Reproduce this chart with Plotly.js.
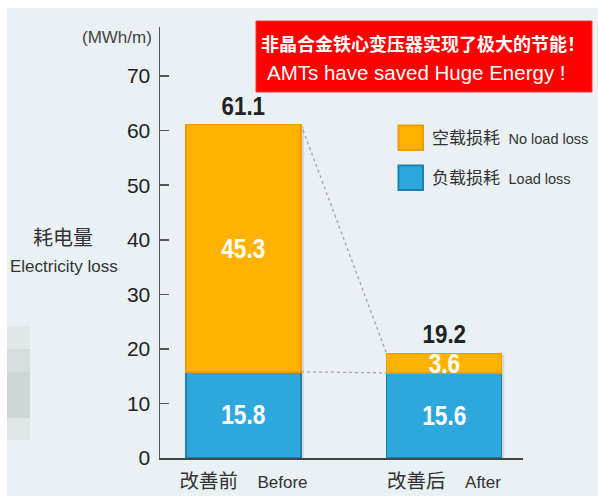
<!DOCTYPE html>
<html>
<head>
<meta charset="utf-8">
<script src="https://cdn.plot.ly/plotly-3.0.1.min.js"></script>
<style>
  html, body { margin: 0; padding: 0; background: #ffffff; width: 598px; height: 496px; overflow: hidden; }
  #chart { position: absolute; left: 7px; top: 8px; width: 591px; height: 488px; }
  .narrow text { transform-box: fill-box; transform-origin: center; }
</style>
</head>
<body>
<div id="chart"></div>
<script>
// ---- data ----
const categories = ['改善前', '改善后'];
const categoriesEn = ['Before', 'After'];
const loadLoss = [15.8, 15.6];      // 负载损耗 Load loss
const noLoadLoss = [45.3, 3.6];     // 空载损耗 No load loss
const totals = [61.1, 19.2];
const yTicks = [0, 10, 20, 30, 40, 50, 60, 70];
const seriesNoLoad = ['空载损耗', 'No load loss'];
const seriesLoad = ['负载损耗', 'Load loss'];
const unitLabel = '(MWh/m)';
const yTitleCn = '耗电量';
const yTitleEn = 'Electricity loss';
const bannerCn = '非晶合金铁心变压器实现了极大的节能！';
const bannerEn = 'AMTs have saved Huge Energy !';

// ---- styling ----
const BG = '#e9f1f4';
const ORANGE = '#ffb300', ORANGE_LINE = '#f29a06';
const BLUE = '#2ea8dc', BLUE_LINE = '#1b80b6';
const LATIN = 'Liberation Sans, Arial, Noto Sans CJK SC, sans-serif';
const CJK = 'Liberation Sans, Noto Sans CJK SC, sans-serif';
const BAR_W = 0.574;

// plot area geometry in page pixels (div offset 7,8)
const M = {l: 153, r: 75, t: 19, b: 38};
const PW = 591 - M.l - M.r, PH = 488 - M.t - M.b;
const px = p => (p - 7 - M.l) / PW;
const py = p => (8 + M.t + PH - p) / PH;

const traces = [
  {
    type: 'bar', x: categories, y: loadLoss, name: seriesLoad.join(' '),
    width: BAR_W, marker: {color: BLUE, line: {color: BLUE_LINE, width: 1.5}},
    hoverinfo: 'skip'
  },
  {
    type: 'bar', x: categories, y: noLoadLoss, name: seriesNoLoad.join(' '),
    width: BAR_W, marker: {color: ORANGE, line: {color: ORANGE_LINE, width: 1.5}},
    hoverinfo: 'skip'
  }
];

const annotations = [];
const shapes = [];
const narrowIdx = {};   // annotation index -> horizontal squeeze factor

// value labels inside segments and totals above bars
categories.forEach((c, i) => {
  narrowIdx[annotations.length] = 0.81;
  annotations.push({
    xref: 'x', yref: 'y', x: i, y: loadLoss[i] / 2, text: loadLoss[i].toFixed(1),
    showarrow: false, font: {family: LATIN, size: 28, color: '#ffffff', weight: 'bold'}
  });
  narrowIdx[annotations.length] = 0.81;
  annotations.push({
    xref: 'x', yref: 'y', x: i, y: loadLoss[i] + noLoadLoss[i] / 2, text: noLoadLoss[i].toFixed(1),
    showarrow: false, font: {family: LATIN, size: 28, color: '#ffffff', weight: 'bold'}
  });
  narrowIdx[annotations.length] = 0.86;
  annotations.push({
    xref: 'x', yref: 'y', x: i, y: totals[i], yanchor: 'bottom', yshift: 2, text: totals[i].toFixed(1),
    showarrow: false, font: {family: LATIN, size: 26, color: '#222222', weight: 'bold'}
  });
  // soft shadow to the right of each bar
  shapes.push({
    type: 'rect', xref: 'x', yref: 'y', layer: 'below',
    x0: i + BAR_W / 2, x1: i + BAR_W / 2 + 0.014, y0: 0, y1: totals[i] - 0.3,
    fillcolor: 'rgba(120,130,135,0.22)', line: {width: 0}
  });
});

// dashed connector lines between bars
shapes.push({
  type: 'line', xref: 'x', yref: 'y', layer: 'below',
  x0: 0 + BAR_W / 2, y0: totals[0], x1: 1 - BAR_W / 2, y1: totals[1],
  line: {color: '#a6a6a6', width: 1.3, dash: '3px,3px'}
});
shapes.push({
  type: 'line', xref: 'x', yref: 'y', layer: 'below',
  x0: 0 + BAR_W / 2, y0: loadLoss[0], x1: 1 - BAR_W / 2, y1: loadLoss[1],
  line: {color: '#a6a6a6', width: 1.3, dash: '3px,3px'}
});

// decorative grey strip at left edge
const strips = [[326, 349, '#e2e8e9'], [349, 372, '#d5dddf'], [372, 418, '#ced7d8'], [418, 440, '#e0e6e7']];
strips.forEach(s => shapes.push({
  type: 'rect', xref: 'paper', yref: 'paper', layer: 'below',
  x0: px(7), x1: px(30), y0: py(s[1]), y1: py(s[0]), fillcolor: s[2], line: {width: 0}
}));

// red banner
shapes.push({
  type: 'rect', xref: 'paper', yref: 'paper',
  x0: px(256), x1: px(592), y0: py(92), y1: py(21),
  fillcolor: '#ff0000', line: {color: '#ff3b3b', width: 1}
});
annotations.push({
  xref: 'paper', yref: 'paper', x: px(423), y: py(42.5), xanchor: 'center', yanchor: 'middle',
  text: bannerCn, showarrow: false,
  font: {family: 'Noto Sans CJK SC, sans-serif', size: 18, color: '#ffffff', weight: 'bold'}
});
annotations.push({
  xref: 'paper', yref: 'paper', x: px(416.5), y: py(72.5), xanchor: 'center', yanchor: 'middle',
  text: bannerEn, showarrow: false,
  font: {family: LATIN, size: 20.5, color: '#ffffff'}
});

// custom legend
const legendItems = [
  {names: seriesNoLoad, fill: ORANGE, line: ORANGE_LINE, top: 125},
  {names: seriesLoad, fill: BLUE, line: BLUE_LINE, top: 165}
];
legendItems.forEach(it => {
  shapes.push({
    type: 'rect', xref: 'paper', yref: 'paper',
    x0: px(398.5), x1: px(423), y0: py(it.top + 25), y1: py(it.top + 0.5),
    fillcolor: it.fill, line: {color: it.line, width: 2}
  });
  annotations.push({
    xref: 'paper', yref: 'paper', x: px(430), y: py(it.top + 13), xanchor: 'left', yanchor: 'middle',
    showarrow: false,
    text: it.names[0] + '\u2002<span style="font-size:14.5px">' + it.names[1] + '</span>',
    font: {family: CJK, size: 17, color: '#333333'}
  });
});

// unit label and y-axis title
annotations.push({
  xref: 'paper', yref: 'paper', x: px(154), y: py(37.5), xanchor: 'right', yanchor: 'middle',
  text: unitLabel, showarrow: false, font: {family: LATIN, size: 17, color: '#444444'}
});
annotations.push({
  xref: 'paper', yref: 'paper', x: px(63.5), y: py(237.5), xanchor: 'center', yanchor: 'middle',
  text: yTitleCn, showarrow: false, font: {family: CJK, size: 20, color: '#333333'}
});
annotations.push({
  xref: 'paper', yref: 'paper', x: px(64), y: py(266.5), xanchor: 'center', yanchor: 'middle',
  text: yTitleEn, showarrow: false, font: {family: LATIN, size: 17, color: '#333333'}
});

const tickText = categories.map((c, i) =>
  c + '\u2003<span style="font-size:17px">' + categoriesEn[i] + '</span>');

const layout = {
  width: 591, height: 488,
  margin: M,
  paper_bgcolor: BG, plot_bgcolor: BG,
  barmode: 'stack',
  showlegend: false,
  xaxis: {
    type: 'category', range: [-0.4165, 1.394],
    tickvals: categories, ticktext: tickText,
    showline: true, linecolor: '#444444', linewidth: 1.5,
    ticks: '', showgrid: false, zeroline: false,
    tickfont: {family: CJK, size: 19.5, color: '#333333'},
    ticklabelstandoff: 5,
    fixedrange: true
  },
  yaxis: {
    range: [0, 79], tickvals: yTicks, ticktext: yTicks.map(String),
    showline: true, linecolor: '#555555', linewidth: 1.5,
    ticks: 'inside', ticklen: 9, tickwidth: 1.5, tickcolor: '#555555',
    showgrid: false, zeroline: false,
    tickfont: {family: LATIN, size: 21, color: '#222222'},
    ticklabelstandoff: 4,
    fixedrange: true
  },
  shapes: shapes,
  annotations: annotations
};

Plotly.newPlot('chart', traces, layout, {displayModeBar: false, staticPlot: true}).then(gd => {
  // squeeze the bold value labels horizontally (condensed look)
  gd.querySelectorAll('g.annotation').forEach(g => {
    const idx = Number(g.getAttribute('data-index'));
    if (narrowIdx[idx] !== undefined) {
      const t = g.querySelector('text');
      if (t) {
        t.style.transformBox = 'fill-box';
        t.style.transformOrigin = 'center';
        t.style.transform = 'scaleX(' + narrowIdx[idx] + ')';
      }
    }
  });
});
</script>
</body>
</html>
